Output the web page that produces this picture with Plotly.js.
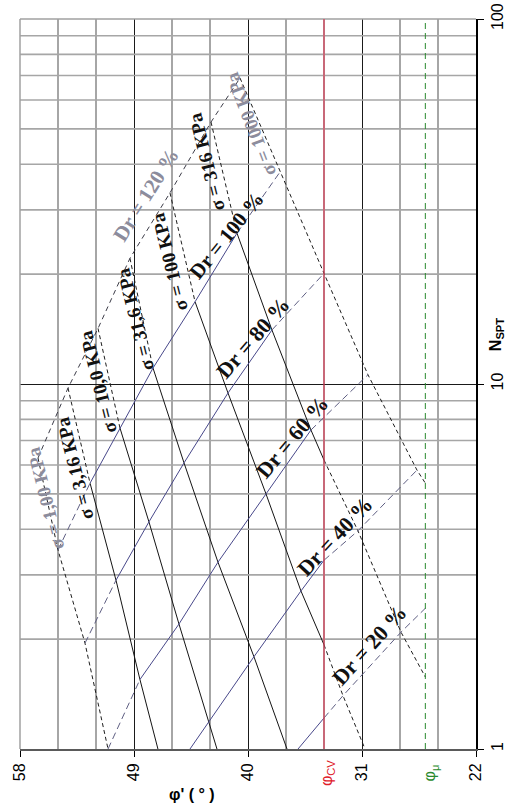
<!DOCTYPE html>
<html>
<head>
<meta charset="utf-8">
<script src="https://cdn.plot.ly/plotly-3.0.1.min.js"></script>
<style>
  html, body { margin: 0; padding: 0; background: #fff; }
  #chart { width: 528px; height: 807px; }
</style>
</head>
<body>
<div id="chart"></div>
<script>
// Friction angle φ' against N_SPT for sands: curves of constant vertical
// stress σ' (KPa) and constant relative density Dr (%).

const PHI_CV = 34;   // critical-state friction angle φcv (°)
const PHI_MU = 26;   // interparticle friction angle φμ (°)

const PHI_RANGE = [58, 22];
const PHI_TICKS = [58, 49, 40, 31, 22];
const PHI_MINOR = [55, 52, 46, 43, 37, 34, 28, 25];
const N_TICKS = [1, 10, 100];
const N_MINOR = [2, 3, 4, 5, 6, 7, 8, 9, 20, 30, 40, 50, 60, 70, 80, 90];

const SIGMA_LABELS = ['1,00', '3,16', '10,0', '31,6', '100', '316', '1000'];
const DR_LABELS = ['120', '100', '80', '60', '40', '20'];

// ---- constant σ' curves: nodes from Dr = 120 % downwards (null = edge / φcv point)
const sig1_dr   = [120, 100, 80, 60];
const sig1_phi  = [56.58, 55.00, 52.87, 51.05];
const sig1_n    = [6.27, 3.51, 1.95, 1.00];

const sig3_dr   = [120, 100, 80, 60, null];
const sig3_phi  = [54.21, 52.47, 50.42, 48.53, 47.11];
const sig3_n    = [9.75, 5.35, 2.90, 1.55, 1.00];

const sig10_dr  = [120, 100, 80, 60, 40, null];
const sig10_phi = [51.84, 50.11, 47.82, 45.45, 43.08, 42.45];
const sig10_n   = [14.2, 7.58, 4.19, 2.20, 1.19, 1.00];

const sig31_dr  = [120, 100, 80, 60, 40, null];
const sig31_phi = [49.32, 47.50, 45.05, 42.37, 39.53, 36.92];
const sig31_n   = [22.1, 11.06, 6.08, 3.25, 1.79, 1.00];

const sig100_dr  = [120, 100, 80, 60, 40, null, 20, null];
const sig100_phi = [46.16, 44.18, 41.58, 38.58, 35.82, 34.00, 32.50, 30.76];
const sig100_n   = [33.4, 16.8, 9.45, 5.00, 2.71, 1.93, 1.40, 1.00];

const sig316_dr  = [120, 100, 80, 60, null, 40, 20, null];
const sig316_phi = [42.92, 40.87, 38.11, 35.03, 34.00, 31.32, 27.92, 26.00];
const sig316_n   = [52.2, 25.9, 14.06, 7.48, 6.19, 3.96, 2.09, 1.575];

const sig1000_dr  = [120, 100, 80, 60, 40, null];
const sig1000_phi = [40.63, 37.47, 34.00, 30.53, 26.66, 26.00];
const sig1000_n   = [68.9, 38.1, 20.1, 10.6, 5.81, 5.35];

// ---- constant Dr curves: nodes from low σ' to high σ' (null = edge / φcv point)
const dr120_s   = [1, 3.16, 10, 31.6, 100, 316, 1000];
const dr120_phi = [56.58, 54.21, 51.84, 49.32, 46.16, 42.92, 40.63];
const dr120_n   = [6.27, 9.75, 14.2, 22.1, 33.4, 52.2, 68.9];

const dr100_s   = [1, 3.16, 10, 31.6, 100, 316, 1000];
const dr100_phi = [55.00, 52.47, 50.11, 47.50, 44.18, 40.87, 37.47];
const dr100_n   = [3.51, 5.35, 7.58, 11.06, 16.8, 25.9, 38.1];

const dr80_s    = [1, 3.16, 10, 31.6, 100, 316, 1000];
const dr80_phi  = [52.87, 50.42, 47.82, 45.05, 41.58, 38.11, 34.00];
const dr80_n    = [1.95, 2.90, 4.19, 6.08, 9.45, 14.06, 20.1];

const dr60_s    = [1, 3.16, 10, 31.6, 100, 316, 1000];
const dr60_phi  = [51.05, 48.53, 45.45, 42.37, 38.58, 35.03, 30.53];
const dr60_n    = [1.00, 1.55, 2.20, 3.25, 5.00, 7.48, 10.6];

const dr40_s    = [null, 10, 31.6, 100, null, 316, 1000];
const dr40_phi  = [44.58, 43.08, 39.53, 35.82, 34.00, 31.32, 26.66];
const dr40_n    = [1.00, 1.19, 1.79, 2.71, 3.29, 3.96, 5.81];

const dr20_s    = [null, null, 100, 316, null];
const dr20_phi  = [36.05, 34.00, 32.50, 27.92, 26.00];
const dr20_n    = [1.00, 1.216, 1.40, 2.09, 2.43];

// ---------------------------------------------------------------------------
const SERIF = 'Liberation Serif, Times New Roman, serif';
const SANS = 'Liberation Sans, Arial, sans-serif';
const GREY_TEXT = '#8c8c9c';
const GRID_GREY = '#a6a6a6';

const STYLE = {
  sigmaSolid:  { color: '#141414', width: 1 },
  sigmaDashed: { color: '#1e1e1e', width: 1, dash: '4px,3px' },
  drSolid:     { color: '#48488a', width: 1 },
  drDashed:    { color: '#5e5e82', width: 1, dash: '7px,4px' },
  dr120:       { color: '#3c3c48', width: 1, dash: '5px,4px' }
};

const traces = [];

// Light horizontal rules at the intermediate N values of each decade.
const gx = [], gy = [];
N_MINOR.forEach(v => { gx.push(PHI_RANGE[0], PHI_RANGE[1], null); gy.push(v, v, null); });
traces.push({
  x: gx, y: gy, type: 'scatter', mode: 'lines', hoverinfo: 'skip', showlegend: false,
  connectgaps: false, line: { color: GRID_GREY, width: 1.6 }
});

// Split a polyline into runs of solid / dashed segments and add them as traces.
function addRuns(phi, n, isDashed, solid, dashed) {
  let start = 0;
  for (let k = 1; k <= phi.length - 1; k++) {
    const cur = isDashed(k - 1);
    const next = k < phi.length - 1 ? isDashed(k) : null;
    if (next !== cur) {
      traces.push({
        x: phi.slice(start, k + 1), y: n.slice(start, k + 1),
        type: 'scatter', mode: 'lines', hoverinfo: 'skip', showlegend: false,
        line: Object.assign({}, cur ? dashed : solid)
      });
      start = k;
    }
  }
}

const sigmaCurves = [
  [1, sig1_dr, sig1_phi, sig1_n],
  [3.16, sig3_dr, sig3_phi, sig3_n],
  [10, sig10_dr, sig10_phi, sig10_n],
  [31.6, sig31_dr, sig31_phi, sig31_n],
  [100, sig100_dr, sig100_phi, sig100_n],
  [316, sig316_dr, sig316_phi, sig316_n],
  [1000, sig1000_dr, sig1000_phi, sig1000_n]
];

sigmaCurves.forEach(([sigma, dr, phi, n]) => {
  const boundary = sigma === 1 || sigma === 1000;
  addRuns(phi, n, k => {
    const mid = (phi[k] + phi[k + 1]) / 2;
    return boundary || dr[k] === 120 || mid < PHI_CV;
  }, STYLE.sigmaSolid, STYLE.sigmaDashed);
});

const drCurves = [
  [120, dr120_s, dr120_phi, dr120_n],
  [100, dr100_s, dr100_phi, dr100_n],
  [80, dr80_s, dr80_phi, dr80_n],
  [60, dr60_s, dr60_phi, dr60_n],
  [40, dr40_s, dr40_phi, dr40_n],
  [20, dr20_s, dr20_phi, dr20_n]
];

function knownBefore(s, k) { for (let i = k; i >= 0; i--) if (s[i] !== null) return s[i]; return null; }
function knownAfter(s, k) { for (let i = k; i < s.length; i++) if (s[i] !== null) return s[i]; return null; }

drCurves.forEach(([dr, s, phi, n]) => {
  if (dr === 120) {
    addRuns(phi, n, () => true, STYLE.dr120, STYLE.dr120);
    return;
  }
  addRuns(phi, n, k => {
    const sa = knownBefore(s, k), sb = knownAfter(s, k + 1);
    const mid = (phi[k] + phi[k + 1]) / 2;
    return (sb !== null && sb <= 3.16) || (sa !== null && sa >= 316) || mid < PHI_CV;
  }, STYLE.drSolid, STYLE.drDashed);
});

// ---- curve labels
const SP = '\u00a0';
const drText = v => 'Dr' + SP + '=' + SP + v + SP + '%';
const sigmaText = v => 'σ' + SP + '=' + SP + v + SP + 'KPa';

const labelSpecs = [
  // [text, φ', N, angle, size, colour]
  [drText(DR_LABELS[0]), 48.05, 32.9, -58, 21, GREY_TEXT],
  [drText(DR_LABELS[1]), 41.66, 25.6, -51, 21, '#111'],
  [drText(DR_LABELS[2]), 39.61, 13.45, -49, 22, '#111'],
  [drText(DR_LABELS[3]), 36.45, 7.16, -50, 22, '#111'],
  [drText(DR_LABELS[4]), 33.13, 3.81, -47, 22, '#111'],
  [drText(DR_LABELS[5]), 30.37, 1.93, -48, 22, '#111'],
  [sigmaText(SIGMA_LABELS[0]), 56.03, 4.87, -104, 19, GREY_TEXT],
  [sigmaText(SIGMA_LABELS[1]), 53.66, 5.89, -104, 19, '#111'],
  [sigmaText(SIGMA_LABELS[2]), 51.84, 10.1, -104, 19, '#111'],
  [sigmaText(SIGMA_LABELS[3]), 48.92, 14.97, -104, 19, '#111'],
  [sigmaText(SIGMA_LABELS[4]), 46.16, 21.6, -104, 19, '#111'],
  [sigmaText(SIGMA_LABELS[5]), 43.24, 40.6, -104, 19, '#111'],
  [sigmaText(SIGMA_LABELS[6]), 39.76, 51.6, -111, 19, GREY_TEXT]
];

const annotations = labelSpecs.map(([text, phi, n, angle, size, color]) => ({
  x: phi, y: Math.log10(n), xref: 'x', yref: 'y',
  text: text, textangle: angle, showarrow: false,
  xanchor: 'center', yanchor: 'middle',
  font: { family: SERIF, size: size, color: color, weight: 'bold' }
}));

annotations.push(
  { xref: 'paper', yref: 'paper', x: 0.377, y: -0.063, showarrow: false,
    text: "<b>φ' ( ° )</b>", font: { family: SANS, size: 16, color: '#000' },
    xanchor: 'center', yanchor: 'middle' },
  { xref: 'paper', yref: 'paper', x: 1.044, y: 0.567, showarrow: false, textangle: -90,
    text: '<b>N<sub>SPT</sub></b>', font: { family: SANS, size: 16, color: '#000' },
    xanchor: 'center', yanchor: 'middle' },
  { xref: 'x', yref: 'paper', x: PHI_CV, y: -0.033, xshift: 3, showarrow: false, textangle: -90,
    text: 'φ<sub>CV</sub>', font: { family: SANS, size: 16, color: '#e0202a' },
    xanchor: 'center', yanchor: 'middle' },
  { xref: 'x', yref: 'paper', x: PHI_MU, y: -0.033, xshift: 5, showarrow: false, textangle: -90,
    text: 'φ<sub>μ</sub>', font: { family: SANS, size: 16, color: '#2a8a2e' },
    xanchor: 'center', yanchor: 'middle' }
);

const shapes = [
  // light frame on the φ' = 58° and N = 100 edges
  { type: 'line', xref: 'paper', yref: 'paper', x0: 0, x1: 0, y0: 0, y1: 1,
    line: { color: '#a0a0a0', width: 1.5 }, layer: 'above' },
  { type: 'line', xref: 'paper', yref: 'paper', x0: 0, x1: 1, y0: 1, y1: 1,
    line: { color: '#a0a0a0', width: 1.5 }, layer: 'above' },
  // φcv and φμ reference lines
  { type: 'line', xref: 'x', yref: 'paper', x0: PHI_CV, x1: PHI_CV, y0: 0, y1: 1,
    line: { color: '#e0405a', width: 1.2 }, layer: 'above' },
  { type: 'line', xref: 'x', yref: 'paper', x0: PHI_MU, x1: PHI_MU, y0: 0, y1: 1,
    line: { color: '#2a8a2e', width: 1, dash: '6px,4px' }, layer: 'above' }
];

const layout = {
  width: 528, height: 807,
  margin: { l: 20, r: 52, t: 19, b: 58, pad: 0 },
  paper_bgcolor: '#fff', plot_bgcolor: '#fff',
  showlegend: false,
  xaxis: {
    range: PHI_RANGE,
    tickmode: 'array', tickvals: PHI_TICKS, ticktext: PHI_TICKS.map(String),
    tickangle: -90, ticks: 'outside', ticklen: 6, tickwidth: 1, tickcolor: '#000',
    tickfont: { family: SANS, size: 16, color: '#000' },
    showgrid: true, gridcolor: '#1a1a1a', gridwidth: 1,
    minor: { tickmode: 'array', tickvals: PHI_MINOR, showgrid: true,
             gridcolor: GRID_GREY, gridwidth: 1.5, ticks: '' },
    showline: true, linecolor: '#5a5a5a', linewidth: 2,
    zeroline: false, fixedrange: true
  },
  yaxis: {
    type: 'log', range: [0, 2], side: 'right',
    tickmode: 'array', tickvals: N_TICKS, ticktext: N_TICKS.map(String),
    tickangle: -90, ticks: 'outside', ticklen: 6, tickwidth: 1, tickcolor: '#000',
    tickfont: { family: SANS, size: 16, color: '#000' },
    showgrid: true, gridcolor: '#1a1a1a', gridwidth: 1,
    showline: true, linecolor: '#000', linewidth: 1.5,
    zeroline: false, fixedrange: true
  },
  annotations: annotations,
  shapes: shapes
};

Plotly.newPlot('chart', traces, layout, { staticPlot: true, displayModeBar: false });
</script>
</body>
</html>
